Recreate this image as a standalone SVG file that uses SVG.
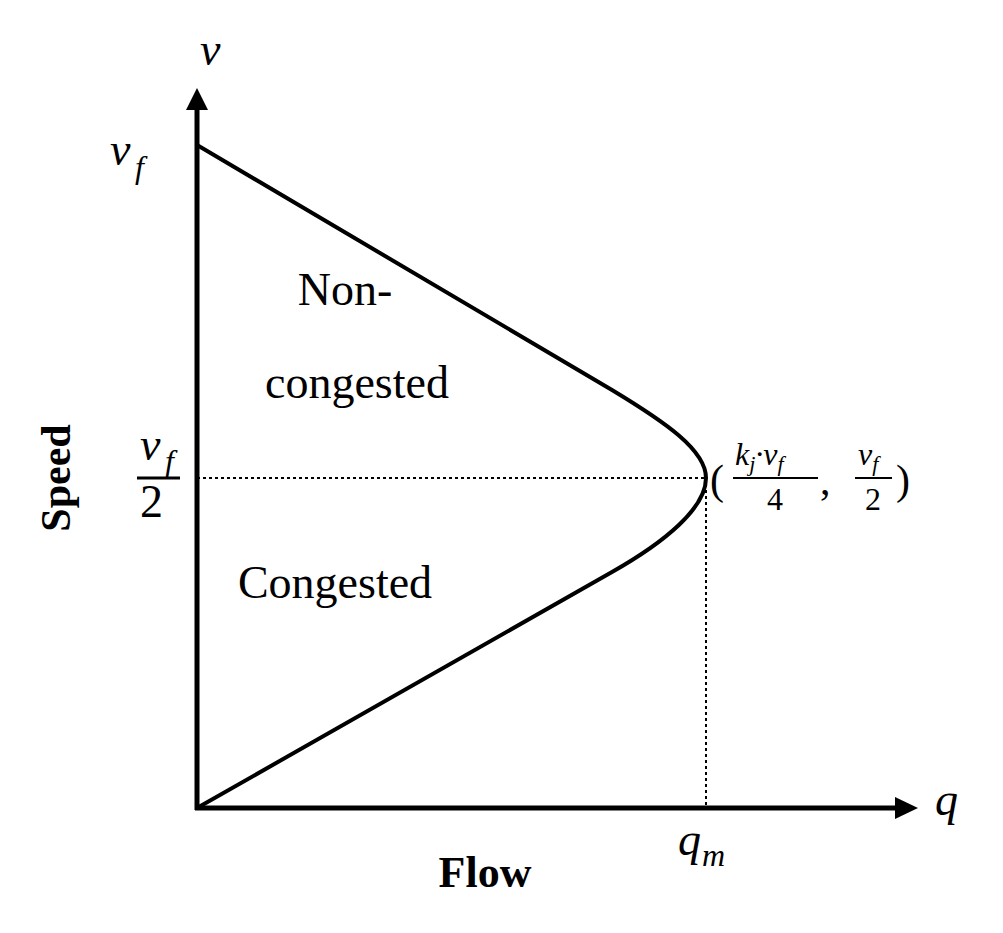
<svg xmlns="http://www.w3.org/2000/svg" width="1003" height="933" viewBox="0 0 1003 933">
<style>
.m{font-family:"Liberation Serif","DejaVu Serif",serif;font-style:italic;fill:#000}
.t{font-family:"Liberation Serif","DejaVu Serif",serif;fill:#000}
.b{font-family:"Liberation Serif","DejaVu Serif",serif;font-weight:bold;fill:#000}
</style>
<rect width="1003" height="933" fill="#fff"/>
<g id="axes" stroke="#000" stroke-width="5" fill="none">
<line x1="197" y1="810" x2="197" y2="100"/>
<path d="M186,110 L197,88 L208,110 z" fill="#000" stroke="none"/>
<line x1="195" y1="808" x2="905" y2="808"/>
<path d="M895,797 L918,808 L895,819 z" fill="#000" stroke="none"/>
</g>
<g id="curve">
<path d="M197,145 L612,390 C665,422 706,450 706,478 C706,508 665,542 612,572 L197,808" fill="none" stroke="#000" stroke-width="4"/>
</g>
<g id="guides" stroke="#000" stroke-width="2" stroke-dasharray="3,3">
<line x1="197" y1="478" x2="706" y2="478"/>
<line x1="706" y1="478" x2="706" y2="808"/>
</g>
<g id="labels">
<text class="m" x="200" y="65" font-size="46">v</text>
<text class="m" x="110" y="165" font-size="46">v</text>
<text class="m" x="135" y="178" font-size="32">f</text>
<text class="m" x="140" y="460" font-size="46">v</text>
<text class="m" x="165" y="472" font-size="32">f</text>
<line x1="137" y1="478" x2="180" y2="478" stroke="#000" stroke-width="3"/>
<text class="t" x="140" y="517" font-size="46">2</text>
<text class="b" x="0" y="0" font-size="42" transform="translate(70,478) rotate(-90)" text-anchor="middle">Speed</text>
<text class="b" x="485" y="887" font-size="44" text-anchor="middle">Flow</text>
<text class="m" x="935" y="815" font-size="46">q</text>
<text class="m" x="678" y="855" font-size="46">q</text>
<text class="m" x="702" y="866" font-size="32">m</text>
<text class="t" x="345" y="305" font-size="46" text-anchor="middle">Non-</text>
<text class="t" x="357" y="398" font-size="46" text-anchor="middle">congested</text>
<text class="t" x="335" y="598" font-size="46" text-anchor="middle">Congested</text>
<text class="t" x="710" y="494" font-size="42">(</text>
<text class="m" x="735" y="465" font-size="32">k<tspan font-size="22" dy="6">j</tspan><tspan dy="-6">·v</tspan><tspan font-size="22" dy="6">f</tspan></text>
<line x1="733" y1="478" x2="818" y2="478" stroke="#000" stroke-width="2"/>
<text class="t" x="767" y="510" font-size="32">4</text>
<text class="t" x="820" y="494" font-size="42">,</text>
<text class="m" x="858" y="465" font-size="32">v<tspan font-size="22" dy="6">f</tspan></text>
<line x1="855" y1="478" x2="892" y2="478" stroke="#000" stroke-width="2"/>
<text class="t" x="865" y="510" font-size="32">2</text>
<text class="t" x="896" y="494" font-size="42">)</text>
</g>
</svg>
